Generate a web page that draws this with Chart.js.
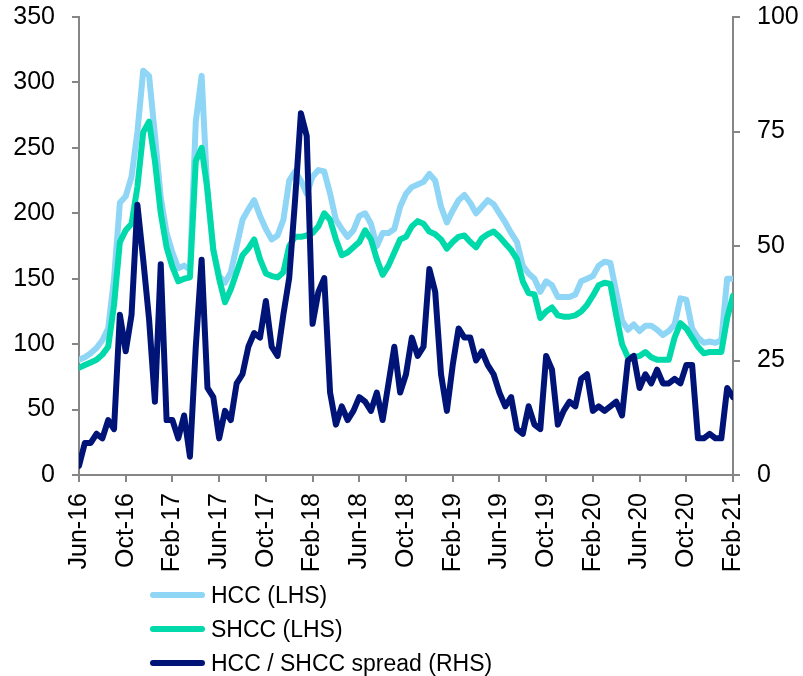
<!DOCTYPE html>
<html>
<head>
<meta charset="utf-8">
<script src="https://cdn.jsdelivr.net/npm/chart.js@4"></script>
<style>
  body { margin: 0; background: #fff; }
  #wrap { position: relative; width: 803px; height: 676px; }
  #legend { position: absolute; left: 150px; top: 578px; font-family: "Liberation Sans", Arial, sans-serif; font-size: 23px; color: #000; }
  .item { display: flex; align-items: center; height: 34px; }
  .swatch { width: 55px; height: 6px; border-radius: 3px; margin-right: 6px; }
</style>
</head>
<body>
<div id="wrap">
  <canvas id="chart" width="803" height="676"></canvas>
  <div id="legend"></div>
</div>
<script>
// Eixo X: meses desde Jun-16, um ponto a cada meio mês
const xTickLabels = ['Jun-16', 'Oct-16', 'Feb-17', 'Jun-17', 'Oct-17', 'Feb-18', 'Jun-18', 'Oct-18',
    'Feb-19', 'Jun-19', 'Oct-19', 'Feb-20', 'Jun-20', 'Oct-20', 'Feb-21'];

const seriesNames = ['HCC (LHS)', 'SHCC (LHS)', 'HCC / SHCC spread (RHS)'];
const seriesColors = ['#8fd5f5', '#00d9aa', '#001478'];

// HCC (LHS)
const hcc = [88, 90, 93, 97, 103, 112, 150, 208, 213, 228, 262, 309, 305, 260, 212, 185, 170, 158, 160, 157,
    270, 305, 215, 172, 152, 147, 155, 175, 195, 203, 210, 198, 188, 180, 183, 195, 225, 232, 225, 215,
    228, 233, 232, 215, 195, 188, 182, 187, 198, 200, 192, 175, 185, 185, 188, 205, 215, 220, 222, 224,
    230, 225, 205, 193, 202, 210, 214, 208, 200, 205, 210, 207, 200, 193, 185, 178, 160, 154, 150, 140,
    148, 145, 136, 136, 136, 138, 148, 150, 152, 160, 163, 162, 140, 118, 111, 115, 110, 114, 114, 111,
    107, 110, 115, 135, 134, 112, 105, 101, 102, 101, 103, 150, 150];

// SHCC (LHS)
const shcc = [82, 84, 86, 88, 92, 98, 130, 178, 187, 192, 220, 262, 270, 240, 200, 174, 159, 148, 150, 151,
    240, 250, 218, 172, 150, 132, 142, 155, 168, 173, 180, 165, 154, 152, 151, 155, 175, 182, 182, 183,
    185, 190, 200, 195, 180, 168, 170, 174, 178, 187, 180, 165, 153, 160, 170, 180, 182, 190, 194, 192,
    186, 184, 180, 173, 178, 182, 183, 178, 174, 181, 184, 186, 182, 177, 172, 165, 148, 139, 138, 120,
    125, 128, 122, 121, 121, 122, 125, 130, 137, 145, 147, 146, 122, 100, 90, 90, 91, 94, 90, 88,
    88, 88, 105, 116, 112, 105, 98, 93, 94, 94, 94, 120, 137];

// Spread HCC / SHCC (RHS)
const spread = [2, 7, 7, 9, 8, 12, 10, 35, 27, 35, 59, 47, 34, 16, 46, 12, 12, 8, 13, 4,
    28, 47, 19, 17, 8, 14, 12, 20, 22, 28, 31, 30, 38, 28, 26, 35, 43, 60, 79, 74,
    33, 40, 43, 18, 11, 15, 12, 14, 17, 16, 14, 18, 12, 20, 28, 18, 22, 30, 26, 28,
    45, 40, 22, 14, 24, 32, 30, 30, 25, 27, 24, 22, 18, 15, 17, 10, 9, 15, 11, 10,
    26, 23, 11, 14, 16, 15, 21, 22, 14, 15, 14, 15, 16, 13, 25, 26, 19, 22, 20, 23,
    20, 20, 21, 20, 24, 24, 8, 8, 9, 8, 8, 19, 17];

const asPoints = (vals) => vals.map((v, i) => ({ x: i * 0.5, y: v }));

const axisGrey = '#868686';
const fonte = { family: '"Liberation Sans", Arial, sans-serif', size: 25 };

// Ajusta a largura do eixo Y e zera o espaço extra acima/abaixo dele
const fixY = (w) => (s) => { s.width = w; s.paddingTop = 0; s.paddingBottom = 0; };

const ctx = document.getElementById('chart').getContext('2d');

const config = {
    type: 'line',
    data: {
        datasets: [
            { label: seriesNames[0], data: asPoints(hcc), borderColor: seriesColors[0], yAxisID: 'y', order: 3 },
            { label: seriesNames[1], data: asPoints(shcc), borderColor: seriesColors[1], yAxisID: 'y', order: 2 },
            { label: seriesNames[2], data: asPoints(spread), borderColor: seriesColors[2], yAxisID: 'y2', order: 1 }
        ]
    },
    options: {
        responsive: false,
        animation: false,
        devicePixelRatio: 1,
        layout: { padding: { top: 17, bottom: 101, left: 0, right: 0 } },
        elements: {
            point: { radius: 0 },
            line: { borderWidth: 6, tension: 0, borderJoinStyle: 'round', borderCapStyle: 'round' }
        },
        plugins: { legend: { display: false }, tooltip: { enabled: false } },
        scales: {
            x: {
                type: 'linear', min: 0, max: 56,
                afterFit: (s) => { s.height = 100; s.paddingLeft = 0; s.paddingRight = 0; },
                border: { display: true, color: axisGrey, width: 2 },
                grid: { drawOnChartArea: false, drawTicks: true, tickLength: 7, color: axisGrey, lineWidth: 2 },
                ticks: {
                    stepSize: 4, autoSkip: false, minRotation: 90, maxRotation: 90, padding: 11,
                    color: '#000', font: fonte,
                    callback: (v) => xTickLabels[v / 4]
                }
            },
            y: {
                position: 'left', min: 0, max: 350,
                afterFit: fixY(79),
                border: { display: true, color: axisGrey, width: 2 },
                grid: { drawOnChartArea: false, drawTicks: true, tickLength: 7, color: axisGrey, lineWidth: 2 },
                ticks: { stepSize: 50, padding: 17, color: '#000', font: fonte }
            },
            y2: {
                position: 'right', min: 0, max: 100,
                afterFit: fixY(70),
                border: { display: true, color: axisGrey, width: 2 },
                grid: { drawOnChartArea: false, drawTicks: true, tickLength: 7, color: axisGrey, lineWidth: 2 },
                ticks: { stepSize: 25, padding: 17, color: '#000', font: fonte }
            }
        }
    }
};

const grafico = new Chart(ctx, config);

// Legenda vertical abaixo do gráfico
const legenda = document.getElementById('legend');
grafico.data.datasets.forEach((ds) => {
    const item = document.createElement('div');
    item.className = 'item';
    const sw = document.createElement('span');
    sw.className = 'swatch';
    sw.style.background = ds.borderColor;
    const txt = document.createElement('span');
    txt.textContent = ds.label;
    item.appendChild(sw);
    item.appendChild(txt);
    legenda.appendChild(item);
});
</script>
</body>
</html>
